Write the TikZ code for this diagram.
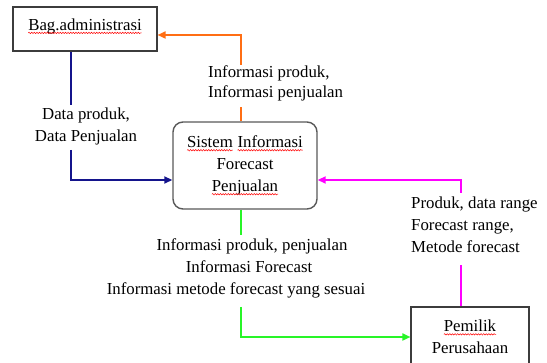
\documentclass[tikz,border=0pt]{standalone}
\usepackage{fontspec}
\setmainfont{Liberation Serif}
\usetikzlibrary{arrows.meta,decorations.pathmorphing}
\tikzset{spwbox/.style={inner sep=0pt, outer sep=0pt, minimum width=0pt, minimum height=0pt, draw=none, fill=none, sharp corners}}
\newcommand\spw[1]{\tikz[baseline=(spwt.base)]{\node[spwbox] (spwt) {#1};\draw[red, line width=0.5pt, sharp corners, decorate, decoration={snake, amplitude=0.7pt, segment length=2.6pt}] ([yshift=-2.6pt]spwt.base west) -- ([yshift=-2.6pt]spwt.base east);}}
\definecolor{cOrange}{RGB}{255,110,20}
\definecolor{cNavy}{RGB}{20,20,140}
\definecolor{cMag}{RGB}{255,0,255}
\definecolor{cGreen}{RGB}{40,245,40}
\definecolor{cBorder}{RGB}{60,60,60}
\tikzset{
  txt/.style={font=\fontsize{16.8}{22}\selectfont, inner sep=0pt},
  entity/.style={draw=cBorder, line width=1.1pt, fill=white, txt, align=center},
  proc/.style={draw=cBorder!85, line width=1.4pt, rounded corners=10pt, fill=white, txt, align=center},
  conn/.style={line width=1.7pt},
  arr/.style={conn, -{Triangle[length=8pt,width=7pt]}}
}
\begin{document}
\begin{tikzpicture}[x=1pt,y=-1pt]
\useasboundingbox (0,0) rectangle (547,363);
% boxes
\node[entity, minimum width=144pt, minimum height=44pt, text depth=9pt] (bag) at (85,29) {\spw{Bag.administrasi}};
\node[proc, minimum width=144pt, minimum height=87pt] (sis) at (245,165.5) {\spw{Sistem} \spw{Informasi}\\Forecast\\\spw{Penjualan}};
\node[entity, minimum width=118pt, minimum height=60pt] (pem) at (470,337) {\spw{Pemilik}\\Perusahaan};
% labels
\node[txt, align=left, anchor=west, font=\fontsize{16.8}{20}\selectfont] (olab) at (208,83) {Informasi produk,\\Informasi penjualan};
\node[txt, align=center] (nlab) at (86,126) {Data produk,\\Data Penjualan};
\node[txt, align=left, anchor=west] (mlab) at (411,225) {Produk, data range\\Forecast range,\\Metode forecast};
\node[txt, align=center] (glab) at (236,268.5) {\hspace*{32pt}Informasi produk, penjualan\\\hspace*{26pt}Informasi Forecast\\Informasi metode forecast yang sesuai};
% gap end points
\coordinate (o1) at (241,107);
\coordinate (o2) at (241,65);
\coordinate (n1) at (71,105);
\coordinate (n2) at (71,150);
\coordinate (m1) at (461,193);
\coordinate (m2) at (461,265);
\coordinate (g1) at (241,235);
\coordinate (g2) at (241,307);
% orange
\draw[conn, cOrange] (sis.north -| o1) -- (o1);
\draw[arr, cOrange] (o2) |- ([yshift=-6pt]bag.east);
% navy
\draw[conn, cNavy] (bag.south -| n1) -- (n1);
\draw[arr, cNavy] (n2) |- ([yshift=-14.5pt]sis.west);
% magenta
\draw[conn, cMag] (pem.north -| m2) -- (m2);
\draw[arr, cMag] (m1) |- ([yshift=-14.5pt]sis.east);
% green
\draw[conn, cGreen] (sis.south -| g1) -- (g1);
\draw[arr, cGreen] (g2) |- (pem.west);
\end{tikzpicture}
\end{document}
